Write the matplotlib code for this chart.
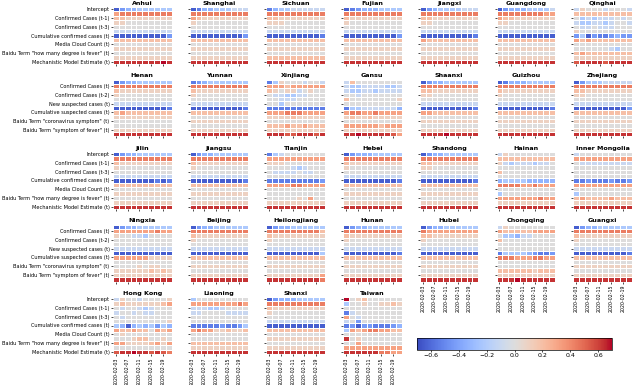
import numpy as np
import matplotlib
matplotlib.use("Agg")
import matplotlib.pyplot as plt

# colour levels, coded as letters A (deep blue) ... H (zero) ... O (deep red)
LEVELS = "ABCDEFGHIJKLMNO"
LEVEL_VALUES = [-0.7, -0.64, -0.54, -0.44, -0.33, -0.22, -0.1, 0.0,
                0.1, 0.2, 0.32, 0.44, 0.54, 0.63, 0.7]

features = ['Intercept', 'Confirmed Cases (t)', 'Confirmed Cases (t-1)', 'Confirmed Cases (t-2)',
            'Confirmed Cases (t-3)', 'New suspected cases (t)', 'Cumulative confirmed cases (t)',
            'Cumulative suspected cases (t)', 'Media Cloud Count (t)',
            'Baidu Term "coronavirus symptom" (t)', 'Baidu Term "how many degree is fever" (t)',
            'Baidu Term "symptom of fever" (t)', 'Mechanistic Model Estimate (t)']
dates = ['2020-02-03', '2020-02-05', '2020-02-07', '2020-02-09', '2020-02-11',
         '2020-02-13', '2020-02-15', '2020-02-17', '2020-02-19', '2020-02-21']
provinces = ['Anhui', 'Shanghai', 'Sichuan', 'Fujian', 'Jiangxi', 'Guangdong', 'Qinghai',
             'Henan', 'Yunnan', 'Xinjiang', 'Gansu', 'Shaanxi', 'Guizhou', 'Zhejiang',
             'Jilin', 'Jiangsu', 'Tianjin', 'Hebei', 'Shandong', 'Hainan', 'Inner Mongolia',
             'Ningxia', 'Beijing', 'Heilongjiang', 'Hunan', 'Hubei', 'Chongqing', 'Guangxi',
             'Hong Kong', 'Liaoning', 'Shanxi', 'Taiwan']

ANHUI = ["BDEEFFFFFF", "KLLLLLLLLL", "JJIIIIIIII", "IIHHHHHHHH", "HHHHHHHHHH", "GGGGGGGGGG", "BBBBBBBBBD",
         "JJJJJJJJJJ", "HHHHHHHHHH", "IIIIIIIIII", "HHHHHHHHHH", "IIIIIIIIII", "NNNNNNNNON"]
SHANGHAI = ["BCEEFFFGGG", "LLLLLLLLLL", "KJIIIIIIII", "IHHHHHHHHH", "HHHHHHHHHH", "GGGGGGGGGG", "BBBBBBBBBD",
            "JJJJJJJJJJ", "HHHHHHHHHH", "IIIIIIIIII", "HHHHHHHHHH", "IIIIIIIIII", "NNNNNNNNNN"]
SICHUAN = ["CEFFGGGGGG", "LLLLLLLLLL", "JJIIIIIIII", "IIIHHHHHHH", "HHHHHHHHHH", "GGGGGGGGGG", "BBBBBBBBBC",
           "JJJJJJJJJJ", "HHHHHHHHHH", "IIIIIIIIII", "HHHHHHHHHH", "JJJJJJJJJJ", "NNNNNNNNNN"]
FUJIAN = ["BCDEEEFFFF", "LLLLLLLLLL", "JIIIIIIIII", "IHHHHHHHHH", "HHHHHHHHHH", "GGGGGGGGGG", "BBBBBBBBBD",
          "JJJJJJJJJJ", "HHHHHHHHHH", "IIIIIIIIII", "HHHHHHHHHH", "IIIIIIIIII", "NNNNNNNNNN"]
JIANGXI = ["BDEFFFFGGG", "LLLLLLLLLL", "JJIIIIIIII", "IIHHHHHHHH", "HHHHHHHHHH", "GGGGGGGGGG", "BBBBBBBBBC",
           "KJJJJJJJJJ", "HHHHHHHHHH", "IIIIIIIIII", "HHHHHHHHHH", "IIIIIIIIII", "NNNNNNNNNN"]
GUANGDONG = ["BDEEEFFFFG", "LLLLLLLLKK", "KJJIIIIIII", "IIHHHHHHHH", "HHHHHHHHHH", "GGGGGGGGGG", "BBBBBBBBBB",
             "JJJJJJJJJJ", "HHHHHHHHHH", "IIIIIIIIII", "HHHHHHHHHH", "IIIIIIIIII", "NNNNNNNNNN"]
QINGHAI = ["GIHHHGHHHG", "JJJJJJJJJJ", "HFGFGGGHGH", "GFFGGFGHHG", "HGGHGGGHHH", "IHHHHHHHHH", "DFBDCCDEDD",
           "KJKJJJJJJJ", "HHHHHHHHHH", "HHHHHHGFHH", "JKJJJJJJJJ", "IIIIIIIIII", "MNNNNMNNNN"]
HENAN = ["BDEEFFFFFF", "LLLLLLLLLL", "JIIIIIIIII", "IHHHHHHHHH", "HHHHHHHHHH", "GGGGGGGGGG", "BBBBBBBBBC",
         "JKJJJJJJJJ", "IIIIIIIIII", "HHHHHHHHHH", "HHHHHHHHHH", "IIIIIIIIII", "NNNNNNNNNN"]
YUNNAN = ["CDEFFFFFFF", "LLLLLLLLLL", "JIIIIIIIII", "IHHHHHHHHH", "HHHHHHHHHH", "GGGGGGGGGG", "BBBBBBBBBC",
          "JJJJJJJJJJ", "HHHHHHHHHH", "IIIIIIIIII", "HHHHHHHHHH", "IIIIIIIIII", "NNNNNNNNNN"]
XINJIANG = ["CFIHHHGHHG", "KKKJKKKKKK", "JIHIIGHIHH", "HGGFFGGHHH", "HHGGGHHHHH", "HHFHHHHHHH", "CCCCCCCCCC",
            "KKKLLLKKKK", "IIIIJIIIII", "HHHHHHHHHH", "JJJKJJKJJJ", "IIIIIIIIII", "NNNMMNNNMN"]
GANSU = ["GJHHHHHHHH", "GFFGGGGFFG", "GFFGGFGGGG", "HHGHHHHHHH", "JHHHHHHHHI", "HHHHHHHHHH", "CFFGGGGGGE",
         "KLLKKLKKKK", "IJIIJIIIII", "HHHHHHHHHH", "KKKKKKJKKK", "IIIIIIIIII", "NNONNNNNMK"]
SHAANXI = ["BDEEFFFFFF", "LLLLLLLLLL", "JJIIIIIIII", "IIHHHHHHHH", "HHHHHHHHHH", "GGGGGGGGGG", "BBBBBBBBBC",
           "KKJJJJJJJJ", "HHHHHHHHHH", "IIIIIIIIII", "HHHHHHHHHH", "IIIIIIIIII", "NNNNONNNNN"]
GUIZHOU = ["BCEEEFFFFF", "LLLLLLLLLL", "JIIIIIIIII", "IHHHHHHHHH", "HHHHHHHHHH", "GGGGGGGGGG", "BBBBBBBBBC",
           "JJJJJJJJJJ", "HHHHHHHHHH", "IIIIIIIIII", "HHHHHHHHHH", "IIIIIIIIII", "NNNNNNNNNN"]
ZHEJIANG = ["BDFFFGGGGG", "LLLLLLLLLL", "JJIIIIIIII", "IIHHHHHHHH", "HHHHHHHHHH", "GGGGGGGGGG", "BBBBBBBBBD",
            "JJJJJJJJJJ", "HHHHHHHHHH", "IIIIIIIIII", "HHHHHHHHHH", "IIIIIIIIII", "NNNNNNNNNN"]
JILIN = ["BDEEFFFFFF", "LLLLLLLLLL", "JIIIIIIIII", "IHHHHHHHHH", "HHHHHHHHHH", "GGGGGGGGGG", "BBBBBBBCBC",
         "JJJJJJJJJJ", "HHHHHHHHHH", "IIIIIIIIII", "HHHHHHHHHH", "IIIIIIIIII", "NNNNNNNNNN"]
JIANGSU = ["BDEEFFFFFF", "LLLLLLLLLL", "JIIIIIIIII", "IHHHHHHHHH", "HHHHHHHHHH", "GGGGGGGGGG", "BBBBBBBBBC",
           "JJJJJJJJJJ", "HHHHHHHHHH", "IIIIIIIIII", "HHHHHHHHHH", "IIIIIIIIII", "NNNNNNNNNN"]
TIANJIN = ["CFGHHHHHHH", "KKKKKKKKKK", "IIIHHHHHHH", "HHHHGFGHHH", "HGGGGHGGHH", "HHHHHHHHHH", "CCCCCCCCCD",
           "KKKKLLKKKK", "HHHHHHHHHH", "HHHHHHHHHH", "HHHHHIHKHH", "IIIIIIIIII", "NNNNNNNNNN"]
HEBEI = ["BDEEEFFFFF", "LLLLLLLLLL", "JIIIIIIIII", "IHHHHHHHHH", "HHHHHHHHHH", "GGGGGGGGGG", "BBBBBBBBBC",
         "JJJJJJJJJJ", "HHHHHHHHHH", "IIIIIIIIII", "HHHHHHHHHH", "IIIIIIIIII", "NNNNNNNNNN"]
SHANDONG = ["BDEEFFFFFF", "LLLLLLLLLL", "JJIIIIIIII", "IIHHHHHHHH", "HHHHHHHHHH", "GGGGGGGGGG", "BBBBBBBBBC",
            "JJJJJJJJJJ", "HHHHHHHHHH", "IIIIIIIIII", "HHHHHHHHHH", "IIIIIIIIII", "NNNNNNNNNN"]
HAINAN = ["GIHHHHHHHH", "JJJJJJJJJJ", "IGFGGGFGGH", "HHHHHHHHHH", "JHHHHHHHHH", "HHHHHHHHHH", "EFFFFEEEEE",
          "LLLLKKLKKK", "HHHHHHHHHH", "FHHHHHHHHH", "KKKKKKKLKK", "IIIIIIIIII", "NNNNNNNNNN"]
INNER_MONGOLIA = ["GHHHHHHHHH", "KKKKKKKKKK", "HGGGGGGGGG", "HHHHHHHHHH", "HHHHHHHHHH", "HHHHHHHHHH", "CCDCCCDCCD",
                  "KKKKKKKKKK", "HHHHHHHHHH", "FHHHHHHHHH", "JKJJJJKJJJ", "IIIIIIIIII", "NNNNNNNNNN"]
NINGXIA = ["BDEEFFFFFF", "KKKKKKKLKK", "IHHGGFHHHH", "HHHHHHHHHH", "HHHHHHHHHH", "GGGGGGGGGG", "BBBBBBBBBB",
           "KKKKKKIIII", "HHHHHHHHHH", "HHHHIHIIHH", "IIIIIIJIJI", "IIIIIIIIII", "NNNNNNNNNN"]
BEIJING = ["BDEEFFFFFF", "LLLLLLLLLL", "JIIIIIIIII", "IHHHHHHHHH", "HHHHHHHHHH", "GGGGGGGGGG", "BBBBBBBBBB",
           "JJJJJJJJJJ", "HHHHHHHHHH", "IIIIIIIIII", "HHHHHHHHHH", "IIIIIIIIII", "NNNNNNNNNN"]
HEILONGJIANG = ["BDEEFFFFFF", "LLLLLLLLLJ", "JIIIIIIIII", "IHHHHHHHHH", "HHHHHHHHHH", "GGGGGGGGGG", "BBBBBBBBBF",
                "JJJJJJJJJJ", "HHHHHHHHHH", "IIIIIIIIII", "HHHHHHHHHH", "IIIIIIIIIK", "NNNNNNNNNL"]
HUNAN = ["BDEEFFFFFF", "LLLLLLLLLL", "JIIIIIIIII", "IHHHHHHHHH", "HHHHHHHHHH", "GGGGGGGGGG", "BBBBBBBBBC",
         "JJJJJJJJJJ", "HHHHHHHHHH", "IIIIIIIIII", "HHHHHHHHHH", "IIIIIIIIII", "NNNNNNNNNN"]
HUBEI = ["BDEEFFFFFF", "LKKKKKKKKK", "JJIIIIIIII", "IHHHHHHHHH", "HHHHHHHHHH", "GGGGGGGGGG", "BBBBBBBBBB",
         "JJJJJJJJJJ", "HHHHHHHHHH", "IIIIIIIIII", "HHHHHHHHHH", "IIIIIIIIII", "NNNNNNNNNN"]
CHONGQING = ["GIHHHHHHHH", "KJJJJJKKKK", "HFFEGGHHHH", "JHHHHHHHHH", "HHHHHHHHHH", "HHHHHHHHHH", "CFFFFEDCCD",
             "LLLKKKLLKK", "HHHHHHHHHH", "HHHHHHHHHH", "JJJJJJIJJJ", "IIIIIIIIII", "NNNONNNNNN"]
GUANGXI = ["BDEEFFFFFF", "LLLLLLLLLL", "JIIIIIIIII", "IHHHHHHHHH", "HHHHHHHHHH", "GGGGGGGGGG", "BBBBBBBBBC",
           "JJJJJJJJJJ", "HHHHHHHHHH", "IIIIIIIIII", "HHHHHHHHHH", "IIIIIIIIII", "NNNNNNNNNN"]
HONG_KONG = ["GIHHGHHHHI", "IJIIIIIIJK", "HGHHGFGHHH", "GHHGHGGHHH", "HGHHHHHHHH", "HHHHHHHHHI", "FEBEFEFDFE",
             "KJJKJJHKJK", "HIHHHHHHHH", "HHHIJJHHIH", "KKIIIIJKIK", "HHHHHHHHHH", "MNNONNMNML"]
LIAONING = ["FHHHHHHHHH", "KKKKKKKKLK", "GGGFFGHHHH", "GGHHHHGGGG", "HHHHHHHHHH", "HHHHHHHHHH", "CCCCCDCCDF",
            "KLKKIIJIIJ", "HHHHHHHHHH", "HHHHHHHHHH", "JJJJJJJJJJ", "IIIIIIIIII", "NNNNNNNNNN"]
SHANXI = ["BDEEEFFFFF", "LLLLLLLLLL", "JIIIIIIIII", "IHHHHHHHHH", "HHHHHHHHHH", "GGGGGGGGGG", "BBBBBBBBBB",
          "JJJJJJJJJJ", "HHHHHHHHHH", "IIIIIIIIII", "HHHHHHHHHH", "IIIIIIIIII", "NNNNNNNNNN"]
TAIWAN = ["OHIJHHHHHH", "FHHIHHIIJI", "HHHHHHHHHH", "CGHHHHHHHH", "KHGHHHHHHH", "GHDHHHHHHH", "CDBDDCCCDE",
          "FKJKLLKKJJ", "HHHHHHHHHH", "NHIHHHHHHH", "HHKHHHHHHH", "KKKKKKKKKK", "NNNNNNLLKK"]

grids = [ANHUI, SHANGHAI, SICHUAN, FUJIAN, JIANGXI, GUANGDONG, QINGHAI,
         HENAN, YUNNAN, XINJIANG, GANSU, SHAANXI, GUIZHOU, ZHEJIANG,
         JILIN, JIANGSU, TIANJIN, HEBEI, SHANDONG, HAINAN, INNER_MONGOLIA,
         NINGXIA, BEIJING, HEILONGJIANG, HUNAN, HUBEI, CHONGQING, GUANGXI,
         HONG_KONG, LIAONING, SHANXI, TAIWAN]

W, H = 640, 385
fig = plt.figure(figsize=(W / 100, H / 100), dpi=100)

x0, dx, pw = 113, 76.7, 58.5
y0, dy, ph = 7, 72.5, 57
ncols = 7
n = len(provinces)

mesh = None
for i, (name, grid) in enumerate(zip(provinces, grids)):
    r, c = divmod(i, ncols)
    left = x0 + c * dx
    top = y0 + r * dy
    ax = fig.add_axes([left / W, 1 - (top + ph) / H, pw / W, ph / H])
    vals = np.array([[LEVEL_VALUES[LEVELS.index(ch)] for ch in row] for row in grid])
    mesh = ax.pcolormesh(vals, cmap='coolwarm', vmin=-0.7, vmax=0.7,
                         edgecolors='white', linewidth=0.4)
    ax.set_xlim(0, len(dates))
    ax.set_ylim(len(features), 0)
    for s in ax.spines.values():
        s.set_visible(False)

    start = 1 if r % 2 == 1 else 0
    yt = np.arange(start, len(features), 2)
    ax.set_yticks(yt + 0.5)
    if c == 0:
        ax.set_yticklabels([features[k] for k in yt])
    else:
        ax.set_yticklabels([])

    xt = np.arange(0, len(dates), 2)
    ax.set_xticks(xt + 0.5)
    # dates only where no panel sits below
    if i + ncols >= n:
        ax.set_xticklabels([dates[k] for k in xt], rotation=90)
    else:
        ax.set_xticklabels([])

    ax.tick_params(length=1.5, width=0.5, pad=1, labelsize=3.6)
    ax.tick_params(axis='x', labelsize=3.4)
    ax.set_title(name, fontsize=4.6, fontweight='bold', pad=1.5)

cax = fig.add_axes([417 / W, 1 - 350 / H, 195 / W, 12 / H])
cbar = fig.colorbar(mesh, cax=cax, orientation='horizontal')
cbar.set_ticks([-0.6, -0.4, -0.2, 0.0, 0.2, 0.4, 0.6])
cbar.ax.tick_params(labelsize=4.5, length=1.5, width=0.5, pad=1)
cbar.outline.set_linewidth(0.5)

fig.savefig('out.png', dpi=100)
